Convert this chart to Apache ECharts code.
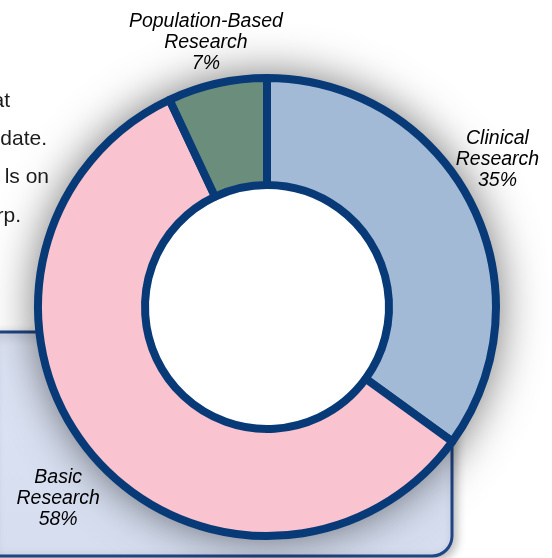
<!DOCTYPE html>
<html>
<head>
<meta charset="utf-8">
<script src="https://cdn.jsdelivr.net/npm/echarts@6/dist/echarts.min.js"></script>
<style>
	html, body { margin: 0; padding: 0; background: #fff; }
	#chart { width: 552px; height: 558px; }
</style>
</head>
<body>
<div id="chart"></div>
<script>
	// share of research funding by category (clockwise from 12 o'clock)
	var categories = ['Clinical Research', 'Basic Research', 'Population-Based Research'];
	var shares = [35, 58, 7];
	var sliceColors = ['#a2bad6', '#f9c3cf', '#6a8e7b'];

	// leftover ends of the slide's paragraph behind the chart
	var bodyText = ['at', 'date.', 'ls on', 'rp.'];
	var bodyRight = [10, 47, 49, 21];
	var bodyY = [101, 139, 177, 216];

	// small label nudges, per slice
	var labelNudge = [[-11, -24], [0, 19], [-2, 0]];

	var chart = echarts.init(document.getElementById('chart'));

	var pieData = [];
	for (var i = 0; i < categories.length; i++) {
		pieData.push({ name: categories[i], value: shares[i], itemStyle: { color: sliceColors[i] } });
	}

	var graphics = [];
	for (var j = 0; j < bodyText.length; j++) {
		graphics.push({
			type: 'text', z: 0,
			x: bodyRight[j], y: bodyY[j],
			style: {
				text: bodyText[j], fill: '#1c1c1c',
				font: '21px "Liberation Sans", Arial, sans-serif',
				textAlign: 'right', textVerticalAlign: 'middle'
			}
		});
	}
	// light blue callout box, lower left
	graphics.push({
		type: 'rect', z: 1,
		shape: { x: -10, y: 332, width: 462, height: 224, r: [0, 0, 20, 0] },
		style: {
			fill: new echarts.graphic.LinearGradient(0, 0, 0, 1, [
				{ offset: 0, color: '#dde4f4' },
				{ offset: 1, color: '#d5ddef' }
			]),
			stroke: '#1f4586', lineWidth: 3,
			shadowBlur: 10, shadowColor: 'rgba(0,0,0,0.25)', shadowOffsetX: 3, shadowOffsetY: 3
		}
	});

	var option = {
		backgroundColor: '#ffffff',
		animation: false,
		graphic: { elements: graphics },
		series: [
			{
				// soft drop shadow behind the ring
				type: 'pie', z: 2, silent: true,
				center: [267, 307], radius: [0, 232],
				label: { show: false }, labelLine: { show: false },
				itemStyle: { color: '#ffffff', shadowBlur: 45, shadowColor: 'rgba(0,0,0,0.55)' },
				data: [{ value: 1, name: '' }]
			},
			{
				type: 'pie', z: 3,
				center: [267, 307], radius: [122, 229],
				startAngle: 90, clockwise: true,
				itemStyle: { borderColor: '#083a78', borderWidth: 8 },
				label: {
					show: true, position: 'outside', overflow: 'none',
					color: '#000', fontStyle: 'italic', fontSize: 19.5, lineHeight: 21,
					fontFamily: '"Liberation Sans", Arial, sans-serif',
					formatter: function (p) {
						return p.name.replace(' ', '\n') + '\n' + p.value + '%';
					}
				},
				labelLine: { show: true, length: 42, length2: 0, lineStyle: { width: 0, opacity: 0 } },
				labelLayout: function (p) {
					var n = labelNudge[p.dataIndex];
					var pts = p.labelLinePoints;
					var x, y;
					if (pts) {
						x = pts[1][0]; y = pts[1][1];
					} else {
						x = p.labelRect.x + p.labelRect.width / 2;
						y = p.labelRect.y + p.labelRect.height / 2;
					}
					return { x: x + n[0], y: y + n[1], align: 'center', verticalAlign: 'middle' };
				},
				emphasis: { disabled: true },
				data: pieData
			}
		]
	};
	chart.setOption(option);
</script>
</body>
</html>
